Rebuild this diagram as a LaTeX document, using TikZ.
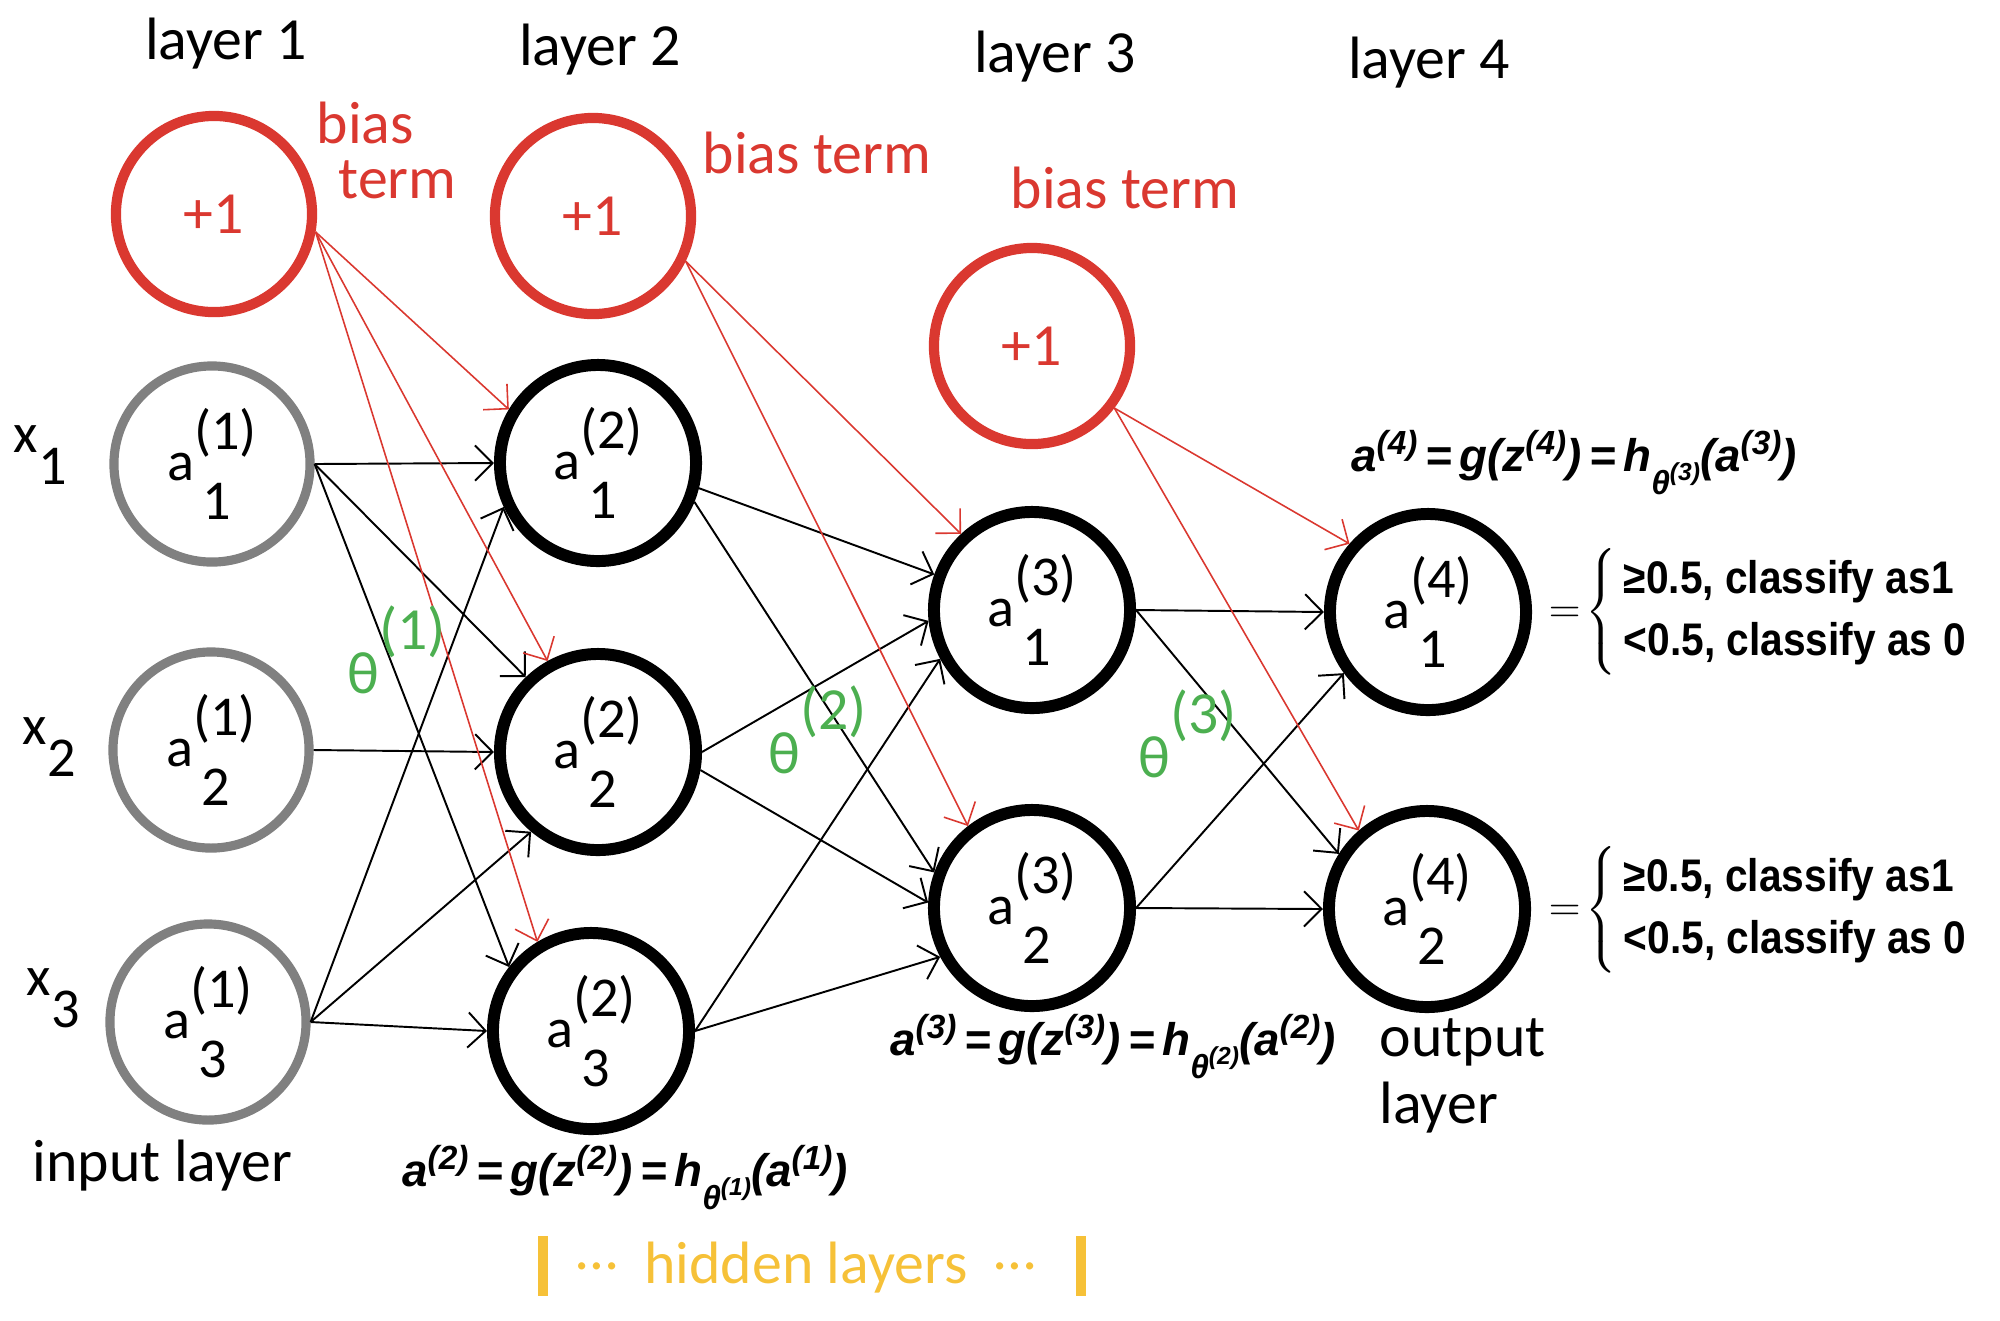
\documentclass[tikz,border=0pt]{standalone}
\usepackage{fontspec}
\setmainfont{Carlito}
\newfontfamily\eqfont{Liberation Sans}
\usetikzlibrary{arrows.meta}
\definecolor{biasred}{RGB}{218,56,48}
\definecolor{inputgray}{RGB}{128,128,128}
\definecolor{thetagreen}{RGB}{76,175,80}
\definecolor{hiddenyellow}{RGB}{246,193,56}

% a^{(l)}_{i} with full size indices
\newcommand{\act}[2]{a\rlap{\hspace{0.15em}\raisebox{-0.68em}{#2}}\raisebox{0.55em}{(#1)}}
\newcommand{\inp}[1]{x\raisebox{-0.57em}{#1}}
\newcommand{\thetalabel}[1]{θ\raisebox{0.72em}{(#1)}}
% indices of the formulas
\newcommand{\eqsup}[1]{\raisebox{4.8pt}{\fontsize{9.5}{11}\selectfont #1}}
\newcommand{\eqsub}[2]{\raisebox{-6.8pt}{\fontsize{9.5}{11}\selectfont #1\raisebox{4pt}{\fontsize{7}{8}\selectfont #2}}}
\newcommand{\actformula}[2]{a\eqsup{(#1)}\,=\,g(z\eqsup{(#1)})\,=\,h\eqsub{θ}{(#2)}(a\eqsup{(#2)})}
\newcommand{\classify}{$=\!\left\{\hspace{2pt}\scalebox{0.89}[1]{\begin{tabular}{@{}l@{}}≥0.5, classify as1\\<0.5, classify as 0\end{tabular}}\right.$}

\tikzset{
  unit/.style={circle,draw=black,line width=3.4pt,minimum size=1.96cm,inner sep=0pt,font=\fontsize{16}{18}\selectfont},
  inunit/.style={unit,draw=inputgray,line width=2.6pt},
  biasunit/.style={unit,draw=biasred,line width=2.9pt,text=biasred,font=\fontsize{17}{20}\selectfont},
  wire/.style={-{Straight Barb[length=5pt,width=10pt]},line width=0.55pt},
  biaswire/.style={wire,draw=biasred,line width=0.45pt},
  txt/.style={inner sep=0pt,font=\fontsize{17}{20}\selectfont},
  eq/.style={inner sep=0pt,font=\eqfont\bfseries\itshape\fontsize{13}{15}\selectfont},
  cls/.style={inner sep=0pt,font=\eqfont\bfseries\fontsize{13}{17.5}\selectfont},
}

\begin{document}
\begin{tikzpicture}[x=0.01cm,y=-0.01cm]
    \useasboundingbox (0,0) rectangle (2000,1320);
    % units
    \node[biasunit] (bias1) at (214,214) {+1};
    \node[inunit] (in1) at (212,464) {\act{1}{1}};
    \node[inunit] (in2) at (211,750) {\act{1}{2}};
    \node[inunit] (in3) at (208,1022) {\act{1}{3}};
    \node[biasunit] (bias2) at (593,216) {+1};
    \node[unit] (hid1) at (598,463) {\act{2}{1}};
    \node[unit] (hid2) at (598,752) {\act{2}{2}};
    \node[unit] (hid3) at (591,1031) {\act{2}{3}};
    \node[biasunit] (bias3) at (1032,346) {+1};
    \node[unit] (sec1) at (1032,610) {\act{3}{1}};
    \node[unit] (sec2) at (1032,908) {\act{3}{2}};
    \node[unit] (out1) at (1428,612) {\act{4}{1}};
    \node[unit] (out2) at (1427,909) {\act{4}{2}};
    % layer 1 -> layer 2
    \draw[wire] (in1.east) -- (hid1.west);
    \draw[wire] (in1.east) -- (hid2.134);
    \draw[wire] (in1.east) -- (hid3.142);
    \draw[wire] (in2.east) -- (hid2.west);
    \draw[wire] (in3.east) -- (hid1.205);
    \draw[wire] (in3.east) -- (hid2.230);
    \draw[wire] (in3.east) -- (hid3.west);
    % layer 2 -> layer 3
    \draw[wire] (hid1.346) -- (sec1.160);
    \draw[wire] (hid1.338) -- (sec2.160);
    \draw[wire] (hid2.east) -- (sec1.186);
    \draw[wire] (hid2.350) -- (sec2.177);
    \draw[wire] (hid3.east) -- (sec1.208);
    \draw[wire] (hid3.east) -- (sec2.208);
    % layer 3 -> layer 4
    \draw[wire] (sec1.east) -- (out1.west);
    \draw[wire] (sec1.east) -- (out2.148);
    \draw[wire] (sec2.east) -- (out1.216);
    \draw[wire] (sec2.east) -- (out2.west);
    % bias terms
    \draw[biaswire] (bias1.350) -- (hid1.149);
    \draw[biaswire] (bias1.350) -- (hid2.119);
    \draw[biaswire] (bias1.350) -- (hid3.121);
    \draw[biaswire] (bias2.334) -- (sec1.133);
    \draw[biaswire] (bias2.334) -- (sec2.128);
    \draw[biaswire] (bias3.323) -- (out1.139);
    \draw[biaswire] (bias3.323) -- (out2.131);
    % labels
    \node[txt,anchor=base] (lay1) at (226,59) {layer 1};
    \node[txt,anchor=base] (lay2) at (600,65) {layer 2};
    \node[txt,anchor=base] (lay3) at (1055,72) {layer 3};
    \node[txt,anchor=base] (lay4) at (1429,78) {layer 4};
    \node[txt,text=biasred,anchor=base west] (bt1a) at (316,143) {bias};
    \node[txt,text=biasred,anchor=base west] (bt1b) at (338,198) {term};
    \node[txt,text=biasred,anchor=base west] (bt2) at (702,173) {bias term};
    \node[txt,text=biasred,anchor=base west] (bt3) at (1010,208) {bias term};
    \node[txt,font=\fontsize{16}{18}\selectfont,anchor=base west] (x1) at (13,452) {\inp{1}};
    \node[txt,font=\fontsize{16}{18}\selectfont,anchor=base west] (x2) at (22,744) {\inp{2}};
    \node[txt,font=\fontsize{16}{18}\selectfont,anchor=base west] (x3) at (26,995) {\inp{3}};
    \node[txt,anchor=base west] (inlab) at (32,1181) {input layer};
    \node[txt,anchor=base west] (outlab) at (1379,1056) {output};
    \node[txt,anchor=base west] (outlab2) at (1379,1123) {layer};
    \node[txt,text=thetagreen,anchor=base west] (th1) at (347,693) {\thetalabel{1}};
    \node[txt,text=thetagreen,anchor=base west] (th2) at (768,773) {\thetalabel{2}};
    \node[txt,text=thetagreen,anchor=base west] (th3) at (1138,777) {\thetalabel{3}};
    % formulas
    \node[eq,anchor=base] (f2) at (625,1186) {\actformula{2}{1}};
    \node[eq,anchor=base] (f3) at (1113,1055) {\actformula{3}{2}};
    \node[eq,anchor=base] (f4) at (1574,471) {\actformula{4}{3}};
    \node[cls,anchor=west] (c1) at (1548,612) {\classify};
    \node[cls,anchor=west] (c2) at (1548,910) {\classify};
    % hidden layers
    \node[txt,text=hiddenyellow,anchor=base] (hidlab) at (806,1283) {\raisebox{0.22em}{…}\ \ hidden layers\ \ \raisebox{0.22em}{…}};
    \draw[hiddenyellow,line width=2.6pt] (543,1236) -- (543,1296);
    \draw[hiddenyellow,line width=2.6pt] (1081,1236) -- (1081,1296);
\end{tikzpicture}
\end{document}
